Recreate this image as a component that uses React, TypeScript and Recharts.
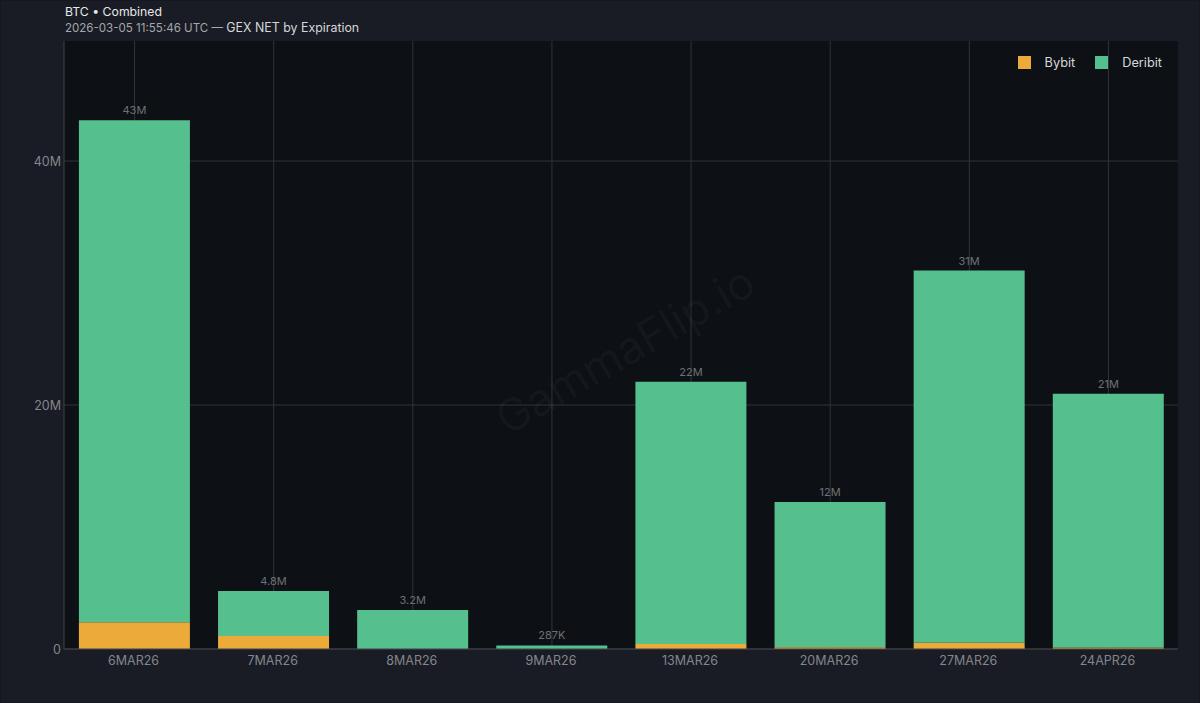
import React from 'react';
import { BarChart, Bar, XAxis, YAxis, CartesianGrid, Legend, LabelList } from 'recharts';

const expirations = ['6MAR26', '7MAR26', '8MAR26', '9MAR26', '13MAR26', '20MAR26', '27MAR26', '24APR26'];
const bybit = [2.2, 1.07, 0, 0, 0.4, 0.15, 0.52, 0.12];
const deribit = [41.15, 3.68, 3.2, 0.287, 21.5, 11.9, 30.5, 20.8];
const totalLabels = ['43M', '4.8M', '3.2M', '287K', '22M', '12M', '31M', '21M'];
const yTicks = [0, 20, 40];

const data = expirations.map((name, i) => ({
  name,
  Bybit: bybit[i],
  Deribit: deribit[i],
  total: totalLabels[i],
}));

const font = 'Inter, "Noto Sans", sans-serif';

const renderLegend = ({ payload }: any) => (
  <div style={{ display: 'flex', fontFamily: font, fontSize: 12.75, lineHeight: '13px', color: '#d5d7da' }}>
    {(payload || []).map((p: any) => (
      <div key={p.value} style={{ display: 'flex', alignItems: 'center', marginLeft: 20 }}>
        <span style={{ width: 13, height: 13, background: p.color, marginRight: 14 }} />
        {p.value}
      </div>
    ))}
  </div>
);

export default function App() {
  return (
    <div style={{ position: 'fixed', left: 0, top: 0, width: 1200, height: 703, background: '#191c24', boxShadow: 'inset 0 0 0 1px #14171d', overflow: 'hidden' }}>
      <BarChart width={1200} height={703} data={data} margin={{ top: 41, right: 22, bottom: 0, left: 0 }} barCategoryGap="10%">
        <CartesianGrid stroke="#303338" fill="#0d1015" horizontalValues={yTicks} verticalValues={expirations} />
        <XAxis
          dataKey="name"
          height={54}
          interval={0}
          padding={{ left: 1, right: 0 }}
          tickLine={false}
          axisLine={{ stroke: '#3f4248' }}
          tick={{ fill: '#83868c', fontSize: 12.5, fontFamily: font, dx: -1 }}
          tickSize={0}
          tickMargin={7}
        />
        <YAxis
          width={64}
          domain={[0, 49.84]}
          ticks={yTicks}
          tickLine={false}
          axisLine={{ stroke: '#3f4248' }}
          tick={{ fill: '#83868c', fontSize: 12.5, fontFamily: font, dy: 1 }}
          tickFormatter={(v: number) => (v === 0 ? '0' : `${v}M`)}
          tickSize={0}
          tickMargin={3}
        />
        <Legend
          verticalAlign="middle"
          align="center"
          content={renderLegend}
          wrapperStyle={{ position: 'absolute', top: 56, right: 38, left: 'auto', bottom: 'auto', width: 'auto' }}
        />
        <Bar dataKey="Bybit" stackId="a" fill="#ecaa38" isAnimationActive={false} />
        <Bar dataKey="Deribit" stackId="a" fill="#55bf8e" isAnimationActive={false}>
          <LabelList dataKey="total" position="top" offset={6} fill="#6d7076" fontSize={11} fontFamily={font} />
        </Bar>
      </BarChart>
      <div
        style={{
          position: 'absolute',
          left: 475,
          top: 320,
          width: 300,
          textAlign: 'center',
          transform: 'rotate(-30deg)',
          fontFamily: font,
          fontSize: 45,
          lineHeight: '60px',
          color: 'rgba(255,255,255,0.04)',
          pointerEvents: 'none',
          whiteSpace: 'nowrap',
        }}
      >
        GammaFlip.io
      </div>
      <div style={{ position: 'absolute', left: 65, top: 4, fontFamily: font, fontSize: 12.25, lineHeight: '16px', color: '#e6e7e9' }}>
        BTC • Combined
      </div>
      <div style={{ position: 'absolute', left: 65, top: 20, fontFamily: font, fontSize: 11.55, lineHeight: '16px', color: '#a4a7ac', whiteSpace: 'nowrap' }}>
        2026-03-05 11:55:46 UTC — <span style={{ color: '#d5d7da', fontSize: 12.4 }}>GEX NET by Expiration</span>
      </div>
    </div>
  );
}
